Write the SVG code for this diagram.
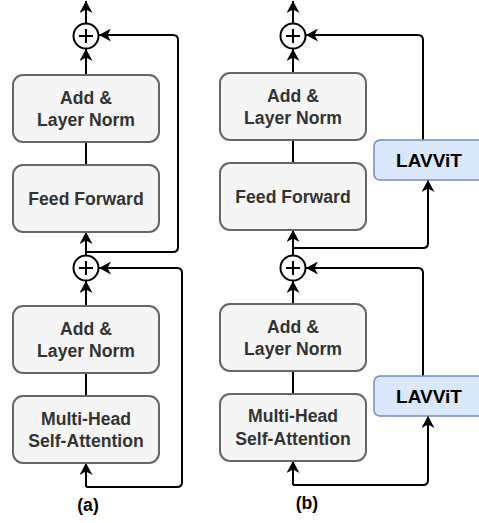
<svg xmlns="http://www.w3.org/2000/svg" width="479" height="523" viewBox="0 0 479 523">
  <style>
    .box { fill: #f5f5f5; stroke: #666666; stroke-width: 2; }
    .lav { fill: #dae8fc; stroke: #6c8ebf; stroke-width: 1.5; }
    .lbl { font-family: "Liberation Sans", Arial, sans-serif; font-weight: bold; font-size: 17.6px; fill: #333333; text-anchor: middle; }
    .lavt { font-family: "Liberation Sans", Arial, sans-serif; font-weight: bold; font-size: 19px; fill: #000000; text-anchor: middle; }
    .cap { font-family: "Liberation Sans", Arial, sans-serif; font-weight: bold; font-size: 17.6px; fill: #000000; text-anchor: middle; }
    .sum { fill: #ffffff; stroke: #000000; stroke-width: 2; }
    .wire { fill: none; stroke: #000000; stroke-width: 2; }
    .arr { fill: none; stroke: #000000; stroke-width: 2; marker-end: url(#head); }
  </style>
  <defs>
    <marker id="head" markerUnits="userSpaceOnUse" markerWidth="13" markerHeight="13" viewBox="0 0 13 13" refX="12" refY="6.5" orient="auto">
      <path d="M0,0 L12,6.5 L0,13 L3.5,6.5 Z" fill="#000000"/>
    </marker>
  </defs>

  <!-- connectors -->
  <g id="connectors">
    <!-- (a) column -->
    <path class="arr" d="M86,23 V1"/>
    <path class="arr" d="M86,75 V49"/>
    <path class="wire" d="M86,142 V165"/>
    <path class="arr" d="M86,256 V232"/>
    <path class="arr" d="M86,252 H173 Q178,252 178,247 V40 Q178,35 173,35 H99"/>
    <path class="arr" d="M86,306 V281"/>
    <path class="wire" d="M86,373 V396"/>
    <path class="arr" d="M86,487 V463"/>
    <path class="arr" d="M86,487 H177 Q182,487 182,482 V273 Q182,268 177,268 H99"/>

    <!-- (b) column -->
    <path class="arr" d="M293,23 V1"/>
    <path class="arr" d="M293,73 V49"/>
    <path class="wire" d="M293,140 V163"/>
    <path class="arr" d="M293,255 V230"/>
    <path class="arr" d="M293,248 H423 Q428,248 428,243 V180"/>
    <path class="arr" d="M423,140 V40 Q423,35 418,35 H306"/>
    <path class="arr" d="M293,304 V281"/>
    <path class="wire" d="M293,371 V394"/>
    <path class="arr" d="M293,485 V461"/>
    <path class="arr" d="M293,485 H423 Q428,485 428,480 V416"/>
    <path class="arr" d="M423,376 V273 Q423,268 418,268 H306"/>
  </g>

  <!-- (a) nodes -->
  <g id="a-sum-top">
    <circle class="sum" cx="86" cy="36" r="12.5"/>
    <path class="wire" d="M79,36 H93 M86,29 V43" stroke-width="1.6"/>
  </g>
  <g id="a-norm-top">
    <rect class="box" x="13" y="75" width="146" height="67" rx="10"/>
    <text class="lbl" x="86" y="104">Add &amp;</text>
    <text class="lbl" x="86" y="126">Layer Norm</text>
  </g>
  <g id="a-ffn">
    <rect class="box" x="13" y="165" width="146" height="67" rx="10"/>
    <text class="lbl" x="86" y="205">Feed Forward</text>
  </g>
  <g id="a-sum-bottom">
    <circle class="sum" cx="86" cy="268" r="12.5"/>
    <path class="wire" d="M79,268 H93 M86,261 V275" stroke-width="1.6"/>
  </g>
  <g id="a-norm-bottom">
    <rect class="box" x="13" y="306" width="146" height="67" rx="10"/>
    <text class="lbl" x="86" y="335">Add &amp;</text>
    <text class="lbl" x="86" y="357">Layer Norm</text>
  </g>
  <g id="a-mhsa">
    <rect class="box" x="13" y="396" width="146" height="67" rx="10"/>
    <text class="lbl" x="86" y="425">Multi-Head</text>
    <text class="lbl" x="86" y="447">Self-Attention</text>
  </g>
  <text class="cap" x="88" y="511">(a)</text>

  <!-- (b) nodes -->
  <g id="b-sum-top">
    <circle class="sum" cx="293" cy="36" r="12.5"/>
    <path class="wire" d="M286,36 H300 M293,29 V43" stroke-width="1.6"/>
  </g>
  <g id="b-norm-top">
    <rect class="box" x="220" y="73" width="146" height="67" rx="10"/>
    <text class="lbl" x="293" y="102">Add &amp;</text>
    <text class="lbl" x="293" y="124">Layer Norm</text>
  </g>
  <g id="b-ffn">
    <rect class="box" x="220" y="163" width="146" height="67" rx="10"/>
    <text class="lbl" x="293" y="203">Feed Forward</text>
  </g>
  <g id="b-lavvit-top">
    <rect class="lav" x="374" y="140" width="110" height="40" rx="6"/>
    <text class="lavt" x="429" y="167">LAVViT</text>
  </g>
  <g id="b-sum-bottom">
    <circle class="sum" cx="293" cy="268" r="12.5"/>
    <path class="wire" d="M286,268 H300 M293,261 V275" stroke-width="1.6"/>
  </g>
  <g id="b-norm-bottom">
    <rect class="box" x="220" y="304" width="146" height="67" rx="10"/>
    <text class="lbl" x="293" y="333">Add &amp;</text>
    <text class="lbl" x="293" y="355">Layer Norm</text>
  </g>
  <g id="b-mhsa">
    <rect class="box" x="220" y="394" width="146" height="67" rx="10"/>
    <text class="lbl" x="293" y="422">Multi-Head</text>
    <text class="lbl" x="293" y="445">Self-Attention</text>
  </g>
  <g id="b-lavvit-bottom">
    <rect class="lav" x="374" y="376" width="110" height="40" rx="6"/>
    <text class="lavt" x="429" y="403">LAVViT</text>
  </g>
  <text class="cap" x="307" y="509">(b)</text>
</svg>
